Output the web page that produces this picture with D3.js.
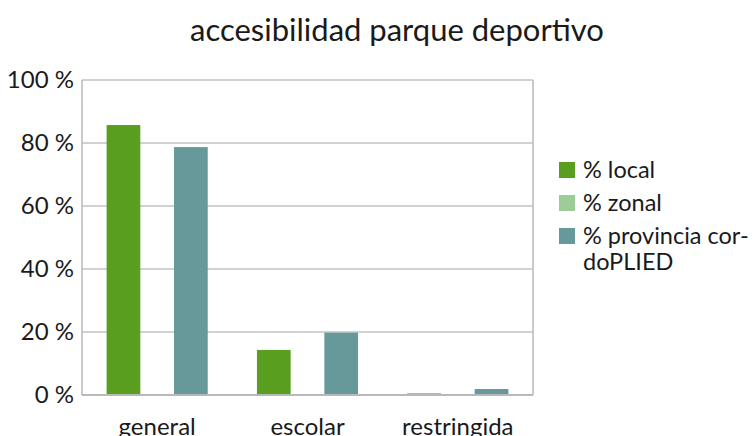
<!DOCTYPE html>
<html>
<head>
<meta charset="UTF-8">
<script src="https://d3js.org/d3.v7.min.js"></script>
<style>
  body { margin: 0; padding: 0; background: #fff; }
  text { font-family: Lato, "Open Sans", sans-serif; fill: #1a1a1a; }
</style>
</head>
<body>
<div id="chart"></div>
<script>
// categories and series
var categories = ["general", "escolar", "restringida"];
var seriesNames = ["% local", "% zonal", "% provincia cor-doPLIED"];
var local = [85.7, 14.3, 0.5];
var zonal = [0, 0, 0];
var provincia = [78.7, 19.8, 1.9];
var yTicks = [0, 20, 40, 60, 80, 100];
var colors = ["#5a9e1f", "#9dcc98", "#67999a"];

var series = [local, zonal, provincia];

var svgWidth = 753, svgHeight = 436;
var margin = { top: 80, right: 220, bottom: 41, left: 82 };
var width = svgWidth - margin.left - margin.right;
var height = svgHeight - margin.top - margin.bottom;

var svg = d3.select('#chart').append('svg')
    .attr('width', svgWidth).attr('height', svgHeight)
    .style('display', 'block');

// title
svg.append('text')
    .attr('x', 397).attr('y', 41)
    .attr('text-anchor', 'middle')
    .style('font-size', '31px')
    .text('accesibilidad parque deportivo');

var g = svg.append('g').attr('transform', `translate(${margin.left}, ${margin.top})`);

var x0 = d3.scaleBand().domain(categories).range([0, width]).padding(0);
var x1 = d3.scaleBand().domain(d3.range(series.length))
    .range([0, x0.bandwidth()]).paddingInner(0).paddingOuter(0.73);
var y = d3.scaleLinear().domain([0, 100]).range([height, 0]);

// gridlines
g.selectAll('line.grid').data(yTicks).join('line')
    .attr('class', 'grid')
    .attr('x1', 0).attr('x2', width)
    .attr('y1', d => y(d)).attr('y2', d => y(d))
    .style('stroke', '#c3c3c3').style('stroke-width', 1.5);

// plot border (left + right)
g.append('line').attr('x1', 0).attr('x2', 0).attr('y1', 0).attr('y2', height)
    .style('stroke', '#b8b8b8').style('stroke-width', 1.5);
g.append('line').attr('x1', width).attr('x2', width).attr('y1', 0).attr('y2', height)
    .style('stroke', '#b8b8b8').style('stroke-width', 1.5);

// x axis baseline
g.append('line').attr('x1', 0).attr('x2', width).attr('y1', height).attr('y2', height)
    .style('stroke', '#b0b0b0').style('stroke-width', 1.5);

// bars
series.forEach(function (vals, si) {
    g.selectAll('rect.s' + si).data(vals).join('rect')
        .attr('class', 's' + si)
        .attr('x', (d, i) => x0(categories[i]) + x1(si))
        .attr('width', x1.bandwidth())
        .attr('y', d => y(d))
        .attr('height', d => height - 1 - y(d))
        .style('fill', colors[si]);
});

// y tick labels
g.selectAll('text.ytick').data(yTicks).join('text')
    .attr('class', 'ytick')
    .attr('x', -8).attr('y', d => y(d))
    .attr('dy', '0.35em')
    .attr('text-anchor', 'end')
    .style('font-size', '24px')
    .text(d => d + ' %');

// x labels (cut at the bottom edge, as in the original)
g.selectAll('text.xtick').data(categories).join('text')
    .attr('class', 'xtick')
    .attr('x', d => x0(d) + x0.bandwidth() / 2)
    .attr('y', height + 40)
    .attr('text-anchor', 'middle')
    .style('font-size', '24px')
    .text(d => d);

// legend
var legend = svg.append('g').attr('transform', 'translate(559, 162)');
var legendLines = [["% local"], ["% zonal"], ["% provincia cor-", "doPLIED"]];
legendLines.forEach(function (lines, i) {
    var row = legend.append('g').attr('transform', `translate(0, ${i * 33})`);
    row.append('rect').attr('width', 16).attr('height', 16).style('fill', colors[i]);
    lines.forEach(function (t, j) {
        row.append('text')
            .attr('x', 24).attr('y', 8 + j * 26)
            .attr('dy', '0.35em')
            .style('font-size', '23.5px')
            .text(t);
    });
});
</script>
</body>
</html>
